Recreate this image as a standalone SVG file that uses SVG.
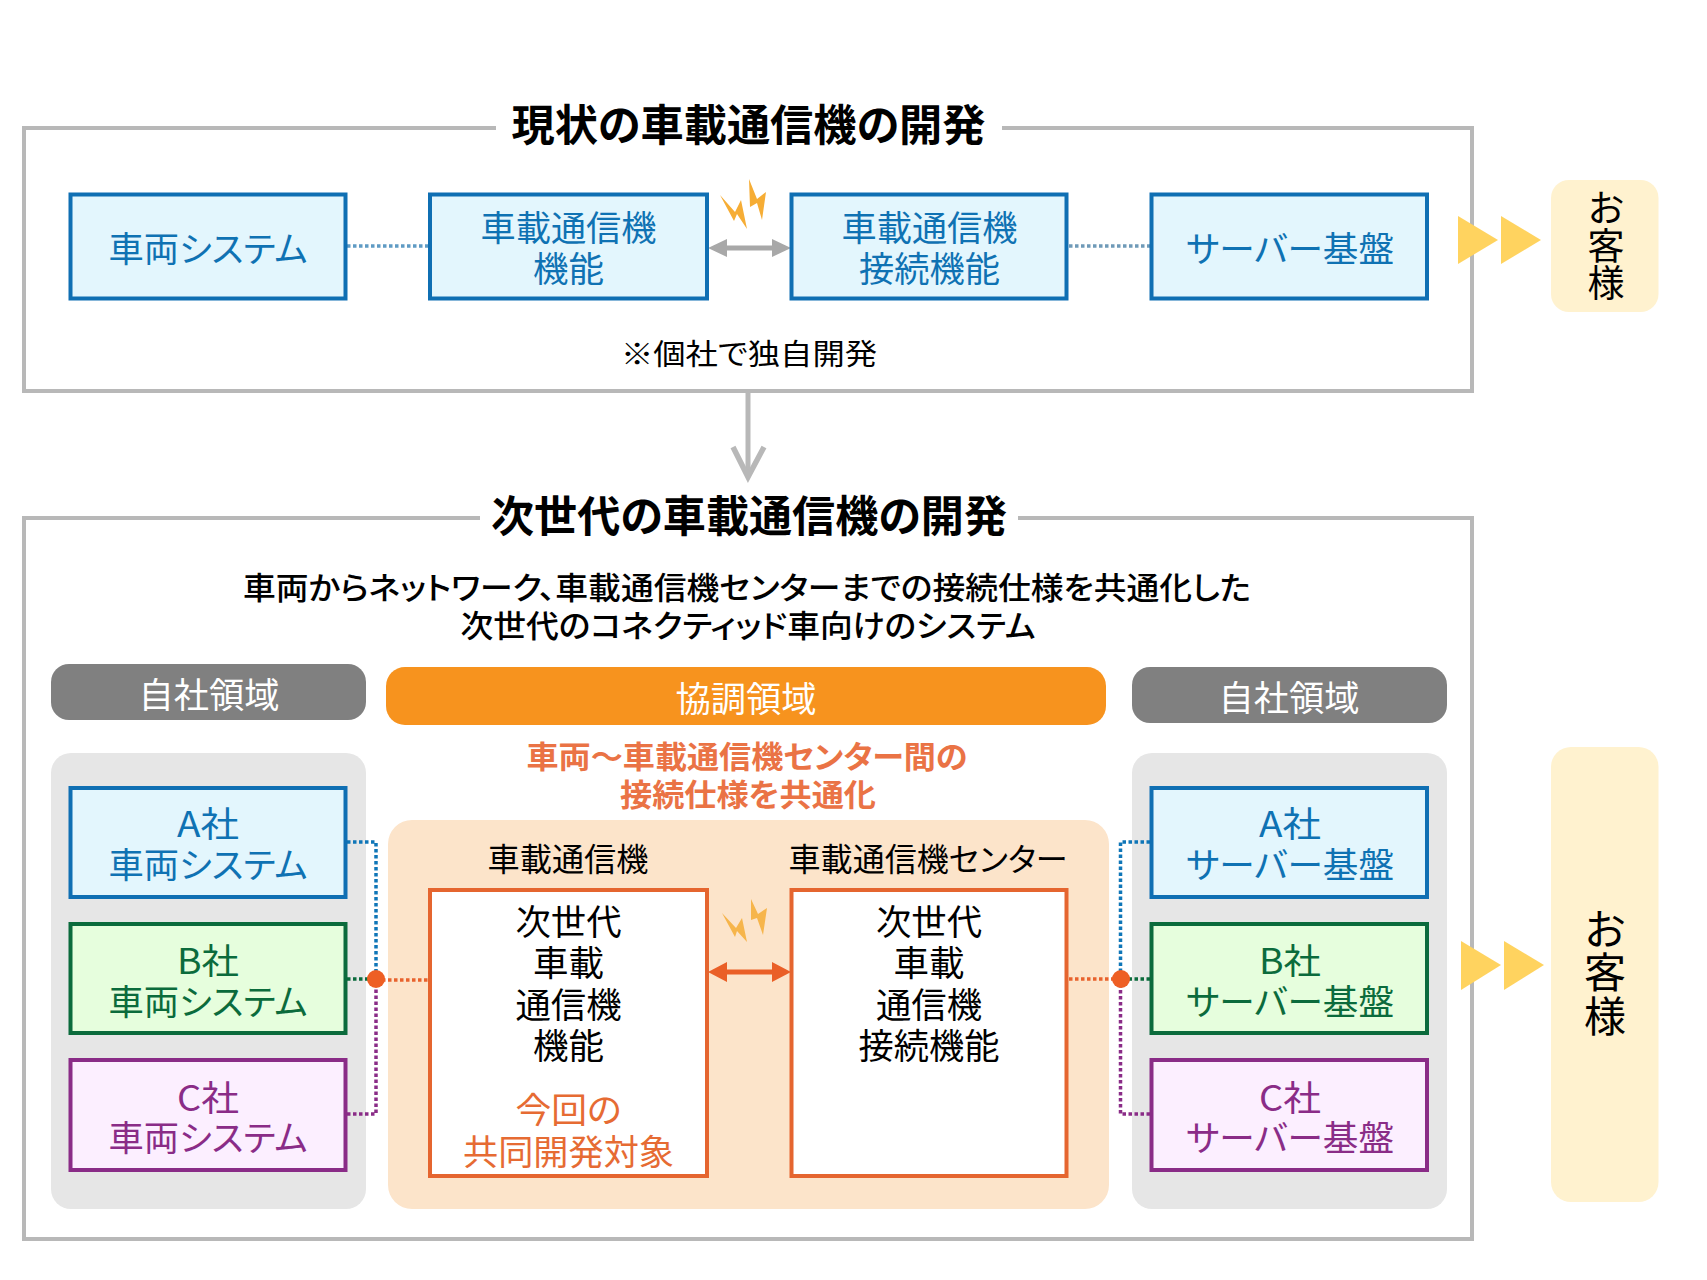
<svg xmlns="http://www.w3.org/2000/svg" width="1707" height="1280" viewBox="0 0 1707 1280">
<style>
text{font-family:"Noto Sans CJK JP","Noto Sans",sans-serif;font-feature-settings:"palt";text-anchor:middle}
.frame{fill:none;stroke:#b8b8b8;stroke-width:4}
.t{font-size:43px;font-weight:700;fill:#000}
.sub{font-size:31px;font-weight:500;fill:#000}
.or{font-size:31px;font-weight:700;fill:#ea7345}
.l{font-size:35px}
.blue rect{fill:#e3f6fd;stroke:#0f6fb3;stroke-width:4}.blue text{fill:#0f72b3}
.green rect{fill:#e6fedd;stroke:#0b6b3c;stroke-width:4}.green text{fill:#0b6b3c}
.purple rect{fill:#fcefff;stroke:#8a2c87;stroke-width:4}.purple text{fill:#8a2c87}
.core rect{fill:#fff;stroke:#e5652f;stroke-width:4}
.dot{fill:none;stroke-width:3.5;stroke-dasharray:3.5 2.5}
.bolt{fill:#f6ad35}
.ch{fill:#ffd35f}
.cust{fill:#fff2cf}
</style>
<rect width="1707" height="1280" fill="#fff"/>
<g id="frame-current">
<path class="frame" d="M496 128H24V391H1472V128H1002"/>
<text class="t" x="748.500" y="141" textLength="474" lengthAdjust="spacingAndGlyphs">現状の車載通信機の開発</text>
</g>
<g id="frame-next">
<path class="frame" d="M480 518H24V1239H1472V518H1018"/>
<text class="t" x="749" y="532" textLength="516" lengthAdjust="spacingAndGlyphs">次世代の車載通信機の開発</text>
<text class="sub" x="747" y="599" textLength="1008" lengthAdjust="spacingAndGlyphs">車両からネットワーク、車載通信機センターまでの接続仕様を共通化した</text>
<text class="sub" x="748" y="637" textLength="575" lengthAdjust="spacingAndGlyphs">次世代のコネクティッド車向けのシステム</text>
</g>
<g id="panels">
<rect x="51" y="753" width="315" height="456" rx="20" fill="#e6e6e6"/>
<rect x="388" y="820" width="721" height="389" rx="24" fill="#fce4ca"/>
<rect x="1132" y="753" width="315" height="456" rx="20" fill="#e6e6e6"/>
</g>
<g id="note"><text x="749" y="365" font-size="29" fill="#000" textLength="256" lengthAdjust="spacingAndGlyphs">※個社で独自開発</text></g>
<g id="band-own-left"><rect x="51" y="664" width="315" height="56" rx="18" fill="#808080"/><text class="l" x="209" y="708" fill="#fff" textLength="141" lengthAdjust="spacingAndGlyphs">自社領域</text></g>
<g id="band-shared"><rect x="386" y="667" width="720" height="58" rx="19" fill="#f7931e"/><text class="l" x="746" y="712" fill="#fff" textLength="141" lengthAdjust="spacingAndGlyphs">協調領域</text></g>
<g id="band-own-right"><rect x="1132" y="667" width="315" height="56" rx="18" fill="#808080"/><text class="l" x="1289" y="711" fill="#fff" textLength="141" lengthAdjust="spacingAndGlyphs">自社領域</text></g>
<g id="shared-caption">
<text class="or" x="747" y="768" textLength="441" lengthAdjust="spacingAndGlyphs">車両～車載通信機センター間の</text>
<text class="or" x="748" y="806" textLength="256" lengthAdjust="spacingAndGlyphs">接続仕様を共通化</text>
<text x="568" y="871" font-size="32" fill="#000" textLength="161" lengthAdjust="spacingAndGlyphs">車載通信機</text>
<text x="928" y="871" font-size="32" fill="#000" textLength="279" lengthAdjust="spacingAndGlyphs">車載通信機センター</text>
</g>
<g id="connectors">
<path class="dot" stroke="#5f9bc4" d="M347 246H428"/>
<path class="dot" stroke="#6f9ab8" d="M1069 246H1150"/>
<g fill="#a8a8a8"><path d="M708 248L727 239V245.500H772V239L791 248L772 257V250.500H727V257Z"/></g>
<path d="M748 391V476" fill="none" stroke="#b8b8b8" stroke-width="5"/>
<path d="M733 447L748 477L764 447" fill="none" stroke="#b8b8b8" stroke-width="5.500"/>
<path fill="#ea5f27" d="M708 972L727 962V969.500H772V962L791 972L772 982V974.500H727V982Z"/>
<path class="dot" stroke="#0f76b8" d="M347 842H376V979"/>
<path class="dot" stroke="#0b6b3c" d="M347 979H376"/>
<path class="dot" stroke="#8a2c87" d="M347 1114H376V979"/>
<path class="dot" stroke="#e8622d" d="M376 980H428"/>
<path class="dot" stroke="#0f76b8" d="M1150 842H1120.500V979"/>
<path class="dot" stroke="#0b6b3c" d="M1150 979H1120.500"/>
<path class="dot" stroke="#8a2c87" d="M1150 1114H1120.500V979"/>
<path class="dot" stroke="#e8622d" d="M1069 979H1120.500"/>
<ellipse cx="376" cy="979" rx="9" ry="9" fill="#ee5f24"/>
<ellipse cx="1121" cy="979" rx="9" ry="9" fill="#ee5f24"/>
</g>
<g id="flow-current" class="ch"><path d="M1458 216L1498 240L1458 264Z"/><path d="M1501 216L1541 240L1501 264Z"/></g>
<g id="flow-next" class="ch"><path d="M1461 941L1501 965L1461 990Z"/><path d="M1504 941L1544 965L1504 990Z"/></g>
<g id="bolt-current" class="bolt">
<path d="M720 195L734 221L737 214L747 229L741 200L735 212Z"/>
<path d="M749 179L750 207L757 203L762 220L766 192L757 199Z"/>
</g>
<g id="bolt-next" class="bolt" opacity=".85">
<path d="M722 913L735 937L737 931L747 942L742 918L736 928Z"/>
<path d="M751 899L751 920L757 918L763 935L767 908L758 914Z"/>
</g>
<g id="n-vehicle" class="blue"><rect x="70.500" y="194.500" width="275" height="104"/><text class="l" x="208" y="262" textLength="199" lengthAdjust="spacingAndGlyphs">車両システム</text></g>
<g id="n-comm" class="blue"><rect x="430" y="194.500" width="277" height="104"/><text class="l" x="568.500" y="241" textLength="176" lengthAdjust="spacingAndGlyphs">車載通信機</text><text class="l" x="568.500" y="282" textLength="71" lengthAdjust="spacingAndGlyphs">機能</text></g>
<g id="n-conn" class="blue"><rect x="791.500" y="194.500" width="275" height="104"/><text class="l" x="929.500" y="241" textLength="176" lengthAdjust="spacingAndGlyphs">車載通信機</text><text class="l" x="929.500" y="282" textLength="141" lengthAdjust="spacingAndGlyphs">接続機能</text></g>
<g id="n-server" class="blue"><rect x="1151.500" y="194.500" width="275.500" height="104"/><text class="l" x="1290" y="262" textLength="208" lengthAdjust="spacingAndGlyphs">サーバー基盤</text></g>
<g id="n-cust-current"><rect class="cust" x="1551" y="180" width="107.500" height="132" rx="18"/><g font-size="37" fill="#000"><text x="1606" y="222">お</text><text x="1606" y="260">客</text><text x="1606" y="297">様</text></g></g>
<g id="n-a-vehicle" class="blue"><rect x="70.500" y="788" width="275" height="109"/><text class="l" x="208" y="837" textLength="62" lengthAdjust="spacingAndGlyphs">A社</text><text class="l" x="208" y="878" textLength="199" lengthAdjust="spacingAndGlyphs">車両システム</text></g>
<g id="n-b-vehicle" class="green"><rect x="70.500" y="924" width="275" height="109"/><text class="l" x="208" y="974" textLength="62" lengthAdjust="spacingAndGlyphs">B社</text><text class="l" x="208" y="1015" textLength="199" lengthAdjust="spacingAndGlyphs">車両システム</text></g>
<g id="n-c-vehicle" class="purple"><rect x="70.500" y="1060" width="275" height="110"/><text class="l" x="208" y="1111" textLength="62" lengthAdjust="spacingAndGlyphs">C社</text><text class="l" x="208" y="1151" textLength="199" lengthAdjust="spacingAndGlyphs">車両システム</text></g>
<g id="n-a-server" class="blue"><rect x="1151.500" y="788" width="275.500" height="109"/><text class="l" x="1290" y="837" textLength="62" lengthAdjust="spacingAndGlyphs">A社</text><text class="l" x="1290" y="878" textLength="208" lengthAdjust="spacingAndGlyphs">サーバー基盤</text></g>
<g id="n-b-server" class="green"><rect x="1151.500" y="924" width="275.500" height="109"/><text class="l" x="1290" y="974" textLength="62" lengthAdjust="spacingAndGlyphs">B社</text><text class="l" x="1290" y="1015" textLength="208" lengthAdjust="spacingAndGlyphs">サーバー基盤</text></g>
<g id="n-c-server" class="purple"><rect x="1151.500" y="1060" width="275.500" height="110"/><text class="l" x="1290" y="1111" textLength="62" lengthAdjust="spacingAndGlyphs">C社</text><text class="l" x="1290" y="1151" textLength="208" lengthAdjust="spacingAndGlyphs">サーバー基盤</text></g>
<g id="n-core-comm" class="core"><rect x="430" y="890" width="277" height="286"/><g class="l" fill="#000"><text x="568.500" y="935" textLength="106" lengthAdjust="spacingAndGlyphs">次世代</text><text x="568.500" y="976" textLength="71" lengthAdjust="spacingAndGlyphs">車載</text><text x="568.500" y="1018" textLength="106" lengthAdjust="spacingAndGlyphs">通信機</text><text x="568.500" y="1059" textLength="71" lengthAdjust="spacingAndGlyphs">機能</text></g><g class="l" fill="#e66b33"><text x="568.500" y="1123" textLength="106" lengthAdjust="spacingAndGlyphs">今回の</text><text x="568.500" y="1165" textLength="211" lengthAdjust="spacingAndGlyphs">共同開発対象</text></g></g>
<g id="n-core-conn" class="core"><rect x="791.500" y="890" width="275" height="286"/><g class="l" fill="#000"><text x="929" y="935" textLength="106" lengthAdjust="spacingAndGlyphs">次世代</text><text x="929" y="976" textLength="71" lengthAdjust="spacingAndGlyphs">車載</text><text x="929" y="1018" textLength="106" lengthAdjust="spacingAndGlyphs">通信機</text><text x="929" y="1059" textLength="141" lengthAdjust="spacingAndGlyphs">接続機能</text></g></g>
<g id="n-cust-next"><rect class="cust" x="1551" y="747" width="107.500" height="455" rx="20"/><g font-size="42" fill="#000"><text x="1605" y="945">お</text><text x="1605" y="988">客</text><text x="1605" y="1032">様</text></g></g>
</svg>
